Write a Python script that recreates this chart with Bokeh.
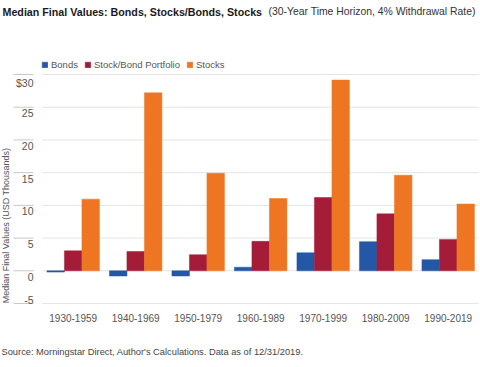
import math
from bokeh.plotting import figure
from bokeh.models import ColumnDataSource, FixedTicker, Label, Legend, LegendItem
from bokeh.transform import dodge
from bokeh.core.properties import value
from bokeh.embed import file_html
from bokeh.resources import INLINE

periods = ["1930-1959", "1940-1969", "1950-1979", "1960-1989", "1970-1999", "1980-2009", "1990-2019"]
bonds = [-0.2, -0.8, -0.8, 0.55, 2.75, 4.45, 1.7]
stock_bond = [3.05, 2.95, 2.45, 4.5, 11.2, 8.7, 4.8]
stocks = [10.95, 27.2, 14.9, 11.05, 29.15, 14.6, 10.2]
y_ticks = [-5, 0, 5, 10, 15, 20, 25, 30]
y_tick_labels = ["-5", "0", "5", "10", "15", "20", "25", "$30"]

FONT = "Liberation Sans"
C_BOND = "#2458a6"
C_SB = "#a51c38"
C_STK = "#ee7623"

idx = list(range(len(periods)))
src = ColumnDataSource(dict(x=idx, period=periods, bonds=bonds, sb=stock_bond, stocks=stocks))

p = figure(width=480, height=367, x_range=(-1.163, 6.517), y_range=(-14.78, 41.31),
           output_backend="svg", toolbar_location=None, y_axis_location=None, title=None,
           min_border_left=0, min_border_right=0, min_border_top=0, min_border_bottom=0)
p.outline_line_color = None
p.grid.visible = False
p.background_fill_color = "white"

# gridlines, short tick segments and tick labels (lowest label sits above its line)
gsrc = ColumnDataSource(dict(y=y_ticks, lab=y_tick_labels))
lo_src = ColumnDataSource(dict(y=y_ticks[:1], lab=y_tick_labels[:1]))
hi_src = ColumnDataSource(dict(y=y_ticks[1:], lab=y_tick_labels[1:]))
p.segment(x0=-0.496, x1=6.485, y0="y", y1="y", source=gsrc, line_color="#e4e4e4", line_width=1)
p.segment(x0=-0.955, x1=-0.635, y0="y", y1="y", source=gsrc, line_color="#c8c8c8", line_width=1)
p.text(x=-0.635, y="y", text="lab", source=hi_src, text_align="right", text_baseline="top",
       y_offset=2, text_font=value(FONT), text_font_size="10.5px", text_color="#555555")
p.text(x=-0.635, y="y", text="lab", source=lo_src, text_align="right", text_baseline="alphabetic",
       y_offset=-3.5, text_font=value(FONT), text_font_size="10.5px", text_color="#555555")

w = 0.28
r1 = p.vbar(x=dodge("x", -w, range=p.x_range), top="bonds", bottom=0, width=w, source=src,
            fill_color=C_BOND, line_color=C_BOND, line_width=0.5)
r2 = p.vbar(x="x", top="sb", bottom=0, width=w, source=src,
            fill_color=C_SB, line_color=C_SB, line_width=0.5)
r3 = p.vbar(x=dodge("x", w, range=p.x_range), top="stocks", bottom=0, width=w, source=src,
            fill_color=C_STK, line_color=C_STK, line_width=0.5)

ax = p.xaxis[0]
ax.fixed_location = -5.306
ax.ticker = FixedTicker(ticks=idx)
ax.major_label_overrides = {i: periods[i] for i in idx}
ax.axis_line_color = None
ax.major_tick_line_color = None
ax.minor_tick_line_color = None
ax.major_label_standoff = 2
ax.major_label_text_font = FONT
ax.major_label_text_font_size = "10px"
ax.major_label_text_color = "#555555"

legend = Legend(items=[LegendItem(label="Bonds", renderers=[r1]),
                       LegendItem(label="Stock/Bond Portfolio", renderers=[r2]),
                       LegendItem(label="Stocks", renderers=[r3])],
                orientation="horizontal", location=(41, 297),
                glyph_width=7, glyph_height=7, label_standoff=3, spacing=6,
                padding=0, margin=0, border_line_color=None, background_fill_alpha=0,
                label_text_font=FONT, label_text_font_size="9.5px", label_text_color="#555555",
                label_height=12)
p.add_layout(legend)

p.add_layout(Label(x=2, y=356, x_units="screen", y_units="screen",
                   text="Median Final Values: Bonds, Stocks/Bonds, Stocks",
                   text_font=FONT, text_font_size="10.7px", text_font_style="bold",
                   text_color="#1a1a1a", text_baseline="middle"))
p.add_layout(Label(x=268, y=356, x_units="screen", y_units="screen",
                   text="(30-Year Time Horizon, 4% Withdrawal Rate)",
                   text_font=FONT, text_font_size="10.4px",
                   text_color="#333333", text_baseline="middle"))
p.add_layout(Label(x=5.5, y=142, x_units="screen", y_units="screen",
                   text="Median Final Values (USD Thousands)", angle=math.pi / 2,
                   text_font=FONT, text_font_size="9px", text_color="#555555",
                   text_align="center", text_baseline="middle"))
p.add_layout(Label(x=1, y=16, x_units="screen", y_units="screen",
                   text="Source: Morningstar Direct, Author's Calculations. Data as of 12/31/2019.",
                   text_font=FONT, text_font_size="9.3px", text_color="#444444",
                   text_baseline="middle"))

open("out.html", "w").write(file_html(p, INLINE))
